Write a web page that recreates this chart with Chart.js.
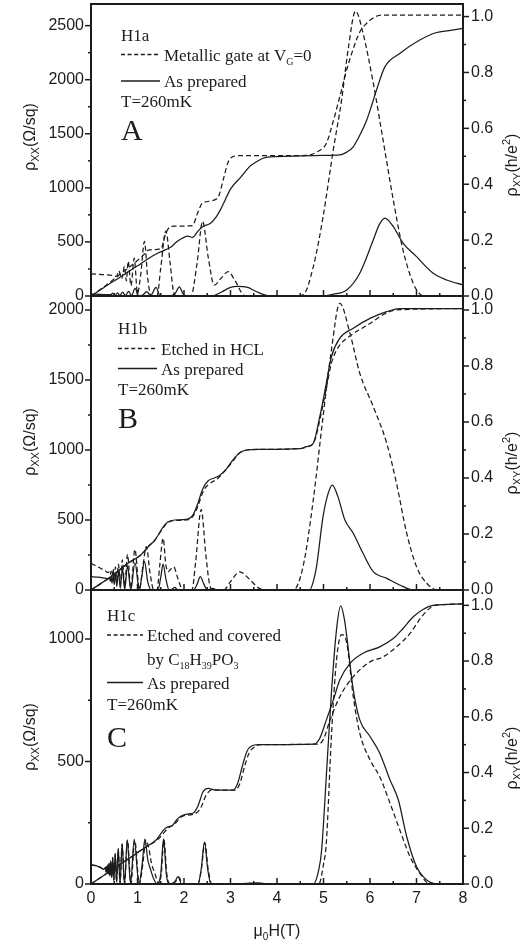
<!DOCTYPE html>
<html><head><meta charset="utf-8">
<script src="https://cdn.jsdelivr.net/npm/chart.js@4.4.1/dist/chart.umd.min.js"></script>
<style>
html,body{margin:0;padding:0;background:#fff;width:520px;height:946px;overflow:hidden}
#wrap{position:relative;width:520px;height:946px}
canvas{position:absolute;left:0;top:0}
</style></head><body>
<div id="wrap">
<canvas id="cA" width="520" height="946"></canvas>
<canvas id="cB" width="520" height="946"></canvas>
<canvas id="cC" width="520" height="946"></canvas>
</div>
<script>
// ---------------- DATA (B in T; rho_xx in Ohm/sq; rho_xy in h/e^2) ----------------
const xMajorTicks = [0,1,2,3,4,5,6,7,8];
const xMinorTicks = [0.5,1.5,2.5,3.5,4.5,5.5,6.5,7.5];
const xTickLabels = ['0','1','2','3','4','5','6','7','8'];
const rightMajor = [0,0.2,0.4,0.6,0.8,1.0];
const rightMinor = [0.1,0.3,0.5,0.7,0.9];
const rightLabels = ['0.0','0.2','0.4','0.6','0.8','1.0'];
const A_leftMajor = [0,500,1000,1500,2000,2500];
const A_leftMinor = [250,750,1250,1750,2250];
const B_leftMajor = [0,500,1000,1500,2000];
const B_leftMinor = [250,750,1250,1750];
const C_leftMajor = [0,500,1000];
const C_leftMinor = [250,750];

// Panel A (H1a)
const A_xxGate = [[0,205],[0.25,198],[0.45,190],[0.55,182],[0.6,232],[0.66,160],[0.72,275],[0.76,140],[0.8,320],[0.86,95],[0.93,350],[1.0,25],[1.07,200],[1.15,505],[1.22,160],[1.3,0],[1.42,0],[1.5,260],[1.61,600],[1.7,310],[1.78,30],[1.85,0],[2.15,0],[2.28,300],[2.4,690],[2.52,360],[2.65,100],[2.8,165],[2.95,225],[3.1,140],[3.28,10],[3.4,0],[4.35,0],[4.56,10],[4.78,270],[4.99,730],[5.21,1350],[5.39,1815],[5.53,2280],[5.69,2635],[5.85,2430],[6.07,1970],[6.28,1445],[6.5,890],[6.71,425],[6.93,117],[7.07,20],[7.2,0],[8,0]];
const A_xxPrep = [[0,18],[0.2,15],[0.42,12],[0.47,26],[0.52,6],[0.57,30],[0.62,5],[0.68,35],[0.74,5],[0.81,42],[0.87,4],[0.95,70],[1.02,4],[1.1,6],[1.2,40],[1.28,4],[1.4,80],[1.48,5],[1.6,0],[1.75,5],[1.82,30],[1.9,85],[1.98,20],[2.08,0],[2.6,0],[2.8,35],[3.0,80],[3.15,88],[3.35,82],[3.55,42],[3.75,8],[3.9,0],[5.0,0],[5.2,15],[5.5,55],[5.78,210],[6.07,518],[6.2,660],[6.32,720],[6.5,642],[6.71,490],[7.0,364],[7.36,210],[7.65,148],[8,102]];
const A_xyGate = [[0,0],[0.3,0.035],[0.64,0.08],[0.8,0.1],[1.0,0.127],[1.15,0.15],[1.25,0.165],[1.5,0.168],[1.6,0.22],[1.68,0.245],[1.8,0.25],[2.18,0.252],[2.3,0.3],[2.4,0.333],[2.72,0.35],[2.85,0.42],[2.94,0.475],[3.05,0.499],[3.2,0.502],[4.0,0.502],[4.63,0.503],[4.85,0.515],[5.06,0.546],[5.2,0.62],[5.35,0.713],[5.5,0.81],[5.63,0.88],[5.78,0.945],[5.93,0.976],[6.1,0.998],[6.25,1.005],[8,1.005]];
const A_xyPrep = [[0,0],[0.3,0.033],[0.64,0.069],[1.0,0.108],[1.2,0.13],[1.43,0.153],[1.6,0.165],[1.72,0.175],[1.85,0.195],[2.0,0.21],[2.08,0.214],[2.18,0.21],[2.3,0.232],[2.4,0.248],[2.57,0.26],[2.7,0.285],[2.8,0.314],[3.01,0.385],[3.23,0.427],[3.41,0.463],[3.51,0.475],[3.7,0.493],[4.0,0.499],[5.0,0.503],[5.35,0.505],[5.5,0.515],[5.64,0.534],[5.78,0.575],[5.93,0.63],[6.05,0.69],[6.14,0.737],[6.32,0.82],[6.64,0.868],[7.07,0.916],[7.43,0.943],[7.7,0.95],[8,0.958]];

// Panel B (H1b)
const B_xxEtch = [[0,190],[0.15,165],[0.3,138],[0.37,125],[0.397,130],[0.415,110],[0.433,135],[0.452,100],[0.476,150],[0.5,88],[0.525,165],[0.555,70],[0.59,185],[0.63,50],[0.675,215],[0.725,30],[0.785,255],[0.855,12],[0.945,290],[1.04,5],[1.12,180],[1.19,310],[1.27,120],[1.35,0],[1.42,0],[1.48,180],[1.55,370],[1.61,180],[1.66,130],[1.72,150],[1.78,165],[1.86,90],[1.95,10],[2.0,0],[2.17,0],[2.25,200],[2.37,575],[2.47,250],[2.55,40],[2.62,0],[2.85,0],[3.0,60],[3.2,130],[3.4,80],[3.6,15],[3.75,0],[4.35,0],[4.56,167],[4.78,643],[4.99,1238],[5.17,1714],[5.35,2048],[5.57,1833],[5.78,1548],[6.07,1310],[6.36,1048],[6.57,762],[6.79,405],[7.0,167],[7.22,48],[7.45,0],[8,0]];
const B_xxPrep = [[0,95],[0.15,92],[0.3,84],[0.37,80],[0.397,88],[0.415,62],[0.433,95],[0.452,50],[0.476,105],[0.5,38],[0.525,118],[0.555,25],[0.59,135],[0.63,12],[0.675,155],[0.725,4],[0.785,175],[0.855,0],[0.945,195],[1.04,0],[1.09,90],[1.15,205],[1.22,60],[1.3,0],[1.44,0],[1.5,90],[1.55,185],[1.61,80],[1.68,0],[1.74,5],[1.8,18],[1.87,0],[2.2,0],[2.28,40],[2.35,95],[2.43,40],[2.5,0],[2.57,5],[2.63,12],[2.7,0],[4.7,0],[4.78,60],[4.85,167],[4.99,524],[5.1,690],[5.19,750],[5.31,667],[5.46,500],[5.64,405],[5.85,262],[6.07,131],[6.36,83],[6.64,36],[6.93,0],[8,0]];
const B_xyEtch = [[0,0],[0.43,0.048],[0.79,0.095],[1.07,0.125],[1.26,0.16],[1.36,0.175],[1.46,0.2],[1.55,0.222],[1.65,0.24],[1.8,0.248],[2.05,0.25],[2.2,0.265],[2.3,0.3],[2.42,0.355],[2.55,0.38],[2.7,0.395],[2.85,0.42],[3.05,0.46],[3.2,0.49],[3.35,0.5],[3.6,0.502],[4.5,0.505],[4.63,0.51],[4.8,0.53],[4.95,0.63],[5.06,0.72],[5.17,0.81],[5.35,0.875],[5.5,0.899],[6.0,0.952],[6.3,0.985],[6.57,1.0],[8,1.005]];
const B_xyPrep = [[0,0],[0.43,0.048],[0.79,0.095],[1.07,0.125],[1.26,0.16],[1.36,0.175],[1.46,0.2],[1.55,0.225],[1.65,0.243],[1.8,0.25],[2.05,0.252],[2.2,0.27],[2.3,0.31],[2.4,0.36],[2.52,0.39],[2.65,0.4],[2.77,0.41],[2.9,0.43],[3.05,0.464],[3.2,0.49],[3.35,0.5],[3.6,0.502],[4.5,0.505],[4.63,0.512],[4.78,0.524],[4.92,0.619],[5.06,0.738],[5.17,0.833],[5.35,0.899],[5.64,0.935],[6.0,0.97],[6.36,0.994],[6.64,1.005],[8,1.005]];

// Panel C (H1c)
const C_xxCov = [[0,78],[0.1,75],[0.2,68],[0.28,60],[0.311,66],[0.322,50],[0.333,70],[0.346,45],[0.359,76],[0.374,40],[0.389,83],[0.407,32],[0.425,93],[0.446,25],[0.467,108],[0.493,15],[0.52,122],[0.55,8],[0.585,142],[0.625,3],[0.669,162],[0.72,0],[0.785,178],[0.86,0],[0.94,178],[1.04,0],[1.12,90],[1.18,178],[1.24,150],[1.3,85],[1.38,40],[1.46,0],[1.51,40],[1.57,180],[1.63,40],[1.7,0],[1.82,10],[1.89,28],[1.97,0],[2.3,0],[2.37,55],[2.45,168],[2.52,60],[2.6,0],[4.9,0],[5.0,80],[5.06,166],[5.17,602],[5.28,915],[5.39,1018],[5.5,984],[5.64,765],[5.78,616],[6.0,507],[6.21,438],[6.43,330],[6.64,221],[6.86,112],[7.07,44],[7.29,0],[8,0]];
const C_xxPrep = [[0,78],[0.1,75],[0.2,68],[0.28,60],[0.311,68],[0.322,50],[0.333,72],[0.346,45],[0.359,78],[0.374,40],[0.389,85],[0.407,32],[0.425,95],[0.446,25],[0.467,110],[0.493,15],[0.52,125],[0.55,8],[0.585,145],[0.625,3],[0.669,165],[0.72,0],[0.78,180],[0.85,0],[0.93,182],[1.03,0],[1.1,80],[1.16,184],[1.22,100],[1.28,60],[1.35,20],[1.42,0],[1.5,40],[1.56,184],[1.62,40],[1.68,0],[1.8,8],[1.87,30],[1.95,0],[2.3,0],[2.37,60],[2.44,172],[2.51,60],[2.58,0],[3.2,0],[3.4,4],[3.6,5],[3.8,0],[4.78,0],[4.9,60],[4.96,139],[5.06,438],[5.17,779],[5.28,1038],[5.37,1135],[5.45,1080],[5.5,1011],[5.64,793],[5.78,670],[6.0,602],[6.21,534],[6.43,425],[6.61,343],[6.79,193],[7.0,71],[7.22,16],[7.45,0],[8,0]];
const C_xyCov = [[0,0],[0.4,0.045],[0.8,0.09],[1.19,0.134],[1.4,0.155],[1.5,0.17],[1.6,0.19],[1.7,0.205],[1.8,0.215],[1.9,0.235],[2.0,0.245],[2.2,0.25],[2.35,0.27],[2.48,0.32],[2.6,0.338],[2.7,0.337],[3.1,0.337],[3.2,0.36],[3.3,0.42],[3.4,0.47],[3.5,0.49],[3.65,0.5],[4.9,0.502],[5.0,0.52],[5.14,0.588],[5.35,0.672],[5.64,0.744],[6.0,0.797],[6.28,0.815],[6.57,0.851],[6.86,0.899],[7.14,0.965],[7.4,1.0],[8,1.005]];
const C_xyPrep = [[0,0],[0.4,0.045],[0.8,0.09],[1.19,0.134],[1.4,0.158],[1.5,0.18],[1.57,0.195],[1.65,0.205],[1.75,0.21],[1.85,0.232],[1.95,0.245],[2.1,0.252],[2.2,0.255],[2.3,0.28],[2.41,0.331],[2.52,0.343],[2.65,0.338],[3.05,0.337],[3.15,0.36],[3.25,0.42],[3.35,0.475],[3.45,0.495],[3.6,0.5],[4.8,0.502],[4.92,0.523],[5.06,0.588],[5.21,0.66],[5.35,0.732],[5.57,0.792],[5.85,0.828],[6.21,0.851],[6.5,0.881],[6.71,0.917],[6.93,0.959],[7.14,0.985],[7.35,1.0],[8,1.005]];

// ---------------- STYLE / LAYOUT ----------------
const INK = '#1c1c1c';
const SANS = '"Liberation Sans", Arial, sans-serif';
const SERIF = '"Liberation Serif", "Times New Roman", serif';
const PLOT_LEFT = 91, PLOT_RIGHT = 463, H = 946, W = 520;

function rich(ctx, parts, x, y, align) {
  ctx.save();
  ctx.textAlign = 'left'; ctx.textBaseline = 'alphabetic';
  let w = 0;
  parts.forEach(p => { ctx.font = p[1] + 'px ' + p[3]; w += ctx.measureText(p[0]).width; });
  let cx = align === 'center' ? x - w / 2 : x;
  parts.forEach(p => {
    ctx.font = p[1] + 'px ' + p[3];
    ctx.fillText(p[0], cx, y + (p[2] || 0));
    cx += ctx.measureText(p[0]).width;
  });
  ctx.restore();
}
function seg(ctx, x1, y1, x2, y2) { ctx.beginPath(); ctx.moveTo(x1, y1); ctx.lineTo(x2, y2); ctx.stroke(); }

function decor(p) {
  return {
    id: 'decor' + p.id,
    afterDraw(chart) {
      const ctx = chart.ctx, a = chart.chartArea;
      const sx = chart.scales.x, sy = chart.scales.y, sy1 = chart.scales.y1;
      ctx.save();
      ctx.strokeStyle = INK; ctx.fillStyle = INK; ctx.setLineDash([]);
      // frame
      ctx.lineWidth = 2;
      ctx.strokeRect(a.left, a.top, a.right - a.left, a.bottom - a.top);
      ctx.lineWidth = 1.5;
      // left ticks (outward)
      p.leftMajor.forEach(v => { const y = sy.getPixelForValue(v); seg(ctx, a.left - 6, y, a.left, y); });
      p.leftMinor.forEach(v => { const y = sy.getPixelForValue(v); seg(ctx, a.left - 3, y, a.left, y); });
      // right ticks (outward)
      rightMajor.forEach(v => { const y = sy1.getPixelForValue(v); seg(ctx, a.right, y, a.right + 6, y); });
      rightMinor.forEach(v => { const y = sy1.getPixelForValue(v); seg(ctx, a.right, y, a.right + 3, y); });
      // bottom ticks (inward)
      xMajorTicks.forEach(v => { const x = sx.getPixelForValue(v); seg(ctx, x, a.bottom, x, a.bottom - 6); });
      xMinorTicks.forEach(v => { const x = sx.getPixelForValue(v); seg(ctx, x, a.bottom, x, a.bottom - 3); });
      // left tick labels
      ctx.font = '16px ' + SANS; ctx.textAlign = 'right'; ctx.textBaseline = 'middle';
      p.leftMajor.forEach(v => ctx.fillText(String(v), a.left - 7, sy.getPixelForValue(v)));
      // right tick labels
      ctx.textAlign = 'left';
      rightMajor.forEach((v, i) => ctx.fillText(rightLabels[i], a.right + 8, sy1.getPixelForValue(v)));
      // x labels
      if (p.xLabels) {
        ctx.textAlign = 'center'; ctx.textBaseline = 'alphabetic';
        xMajorTicks.forEach((v, i) => ctx.fillText(xTickLabels[i], sx.getPixelForValue(v), 903));
        rich(ctx, [['μ', 16, 0, SANS], ['0', 10, 4, SANS], ['H(T)', 16, 0, SANS]], 277, 936, 'center');
      }
      ctx.textAlign = 'left'; ctx.textBaseline = 'alphabetic';
      // left axis title
      ctx.save(); ctx.translate(35, p.leftTitleY); ctx.rotate(-Math.PI / 2);
      rich(ctx, [['ρ', 16, 0, SANS], ['XX', 11, 4, SANS], ['(Ω/sq)', 16, 0, SANS]], 0, 0, 'center');
      ctx.restore();
      // right axis title (partly cut by the page edge, as in the original)
      ctx.save(); ctx.translate(517, p.rightTitleY); ctx.rotate(-Math.PI / 2);
      rich(ctx, [['ρ', 16, 0, SANS], ['XY', 11, 4, SANS], ['(h/e', 16, 0, SANS], ['2', 11, -7, SANS], [')', 16, 0, SANS]], 0, 0, 'center');
      ctx.restore();
      // legend block
      const L = p.legend;
      rich(ctx, [[L.name, 17, 0, SERIF]], L.x, L.nameY, 'left');
      ctx.lineWidth = 1.3;
      ctx.setLineDash([4, 2.6]); seg(ctx, L.x, L.dashY, L.x + L.lineLen, L.dashY);
      ctx.setLineDash([]); seg(ctx, L.x, L.solidY, L.x + L.lineLen, L.solidY);
      L.dashText.forEach(t => rich(ctx, t.parts, L.x + L.lineLen + 4, t.y, 'left'));
      rich(ctx, [['As prepared', 17, 0, SERIF]], L.x + L.lineLen + 4, L.solidY + 6, 'left');
      rich(ctx, [['T=260mK', 17, 0, SERIF]], L.x, L.tempY, 'left');
      rich(ctx, [[L.letter, 30, 0, SERIF]], L.x, L.letterY, 'left');
      ctx.restore();
    }
  };
}

function ds(points, axis, dashed) {
  return {
    data: points.map(q => ({ x: q[0], y: q[1] })),
    yAxisID: axis,
    borderColor: INK,
    borderWidth: 1.25,
    borderDash: dashed ? [5, 3] : [],
    pointRadius: 0,
    fill: false,
    cubicInterpolationMode: 'monotone'
  };
}

function makePanel(p) {
  return new Chart(document.getElementById(p.id), {
    type: 'line',
    data: { datasets: [ds(p.xxD, 'y', true), ds(p.xxS, 'y', false), ds(p.xyD, 'y1', true), ds(p.xyS, 'y1', false)] },
    options: {
      responsive: false, animation: false, devicePixelRatio: 1,
      layout: { padding: { left: PLOT_LEFT, right: W - PLOT_RIGHT, top: p.top, bottom: H - p.bottom } },
      plugins: { legend: { display: false }, tooltip: { enabled: false } },
      scales: {
        x: { type: 'linear', min: 0, max: 8, display: false },
        y: { type: 'linear', min: 0, max: p.yMax, display: false },
        y1: { type: 'linear', min: 0, max: p.y1Max, display: false, position: 'right' }
      }
    },
    plugins: [decor(p)]
  });
}

makePanel({
  id: 'cA', top: 4, bottom: 296, yMax: 2700, y1Max: 1.045,
  leftMajor: A_leftMajor, leftMinor: A_leftMinor,
  xxD: A_xxGate, xxS: A_xxPrep, xyD: A_xyGate, xyS: A_xyPrep,
  leftTitleY: 137, rightTitleY: 165, xLabels: false,
  legend: { x: 121, lineLen: 39, name: 'H1a', nameY: 41, dashY: 54.5, solidY: 81, tempY: 107, letter: 'A', letterY: 140,
    dashText: [{ y: 60.5, parts: [['Metallic gate at V', 17, 0, SERIF], ['G', 10, 4, SERIF], ['=0', 17, 0, SERIF]] }] }
});
makePanel({
  id: 'cB', top: 296, bottom: 590, yMax: 2100, y1Max: 1.05,
  leftMajor: B_leftMajor, leftMinor: B_leftMinor,
  xxD: B_xxEtch, xxS: B_xxPrep, xyD: B_xyEtch, xyS: B_xyPrep,
  leftTitleY: 442, rightTitleY: 463, xLabels: false,
  legend: { x: 118, lineLen: 39, name: 'H1b', nameY: 333.5, dashY: 348.5, solidY: 368.5, tempY: 395, letter: 'B', letterY: 428,
    dashText: [{ y: 354.5, parts: [['Etched in HCL', 17, 0, SERIF]] }] }
});
makePanel({
  id: 'cC', top: 590, bottom: 884, yMax: 1200, y1Max: 1.055,
  leftMajor: C_leftMajor, leftMinor: C_leftMinor,
  xxD: C_xxCov, xxS: C_xxPrep, xyD: C_xyCov, xyS: C_xyPrep,
  leftTitleY: 737, rightTitleY: 758, xLabels: true,
  legend: { x: 107, lineLen: 36, name: 'H1c', nameY: 620.5, dashY: 635, solidY: 682.5, tempY: 710, letter: 'C', letterY: 747,
    dashText: [{ y: 640.5, parts: [['Etched and covered', 17, 0, SERIF]] },
               { y: 665, parts: [['by C', 17, 0, SERIF], ['18', 10, 4, SERIF], ['H', 17, 0, SERIF], ['39', 10, 4, SERIF], ['PO', 17, 0, SERIF], ['3', 10, 4, SERIF]] }] }
});
</script>
</body></html>
